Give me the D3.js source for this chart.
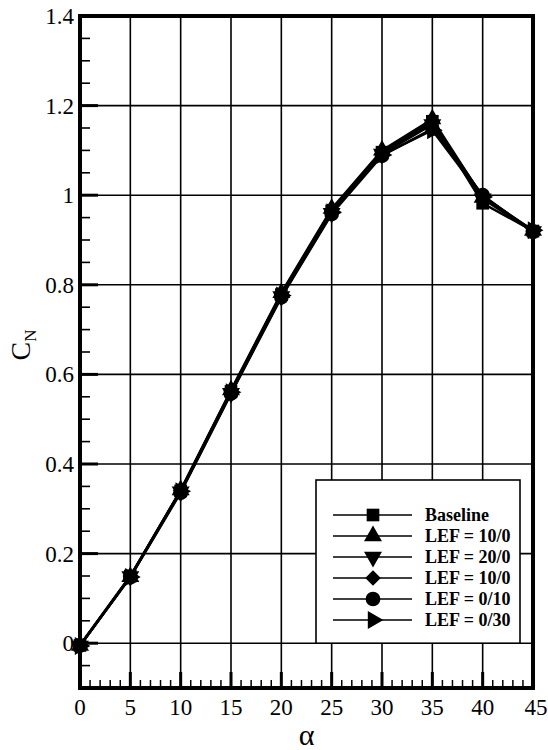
<!DOCTYPE html>
<html><head><meta charset="utf-8">
<script src="https://cdn.jsdelivr.net/npm/d3@7"></script>
<style>body{margin:0;background:#fff}svg{display:block}text{font-family:"Liberation Serif","DejaVu Serif","Times New Roman",serif}</style>
</head><body>
<script>
const alpha = [0, 5, 10, 15, 20, 25, 30, 35, 40, 45];
const seriesNames = ["Baseline", "LEF = 10/0", "LEF = 20/0", "LEF = 10/0", "LEF = 0/10", "LEF = 0/30"];
const seriesSymbols = ["square", "triangleUp", "triangleDown", "diamond", "circle", "triangleRight"];
const baseline = [-0.005, 0.150, 0.340, 0.562, 0.778, 0.965, 1.096, 1.165, 0.982, 0.920];
const lef10_0  = [-0.005, 0.148, 0.342, 0.565, 0.782, 0.970, 1.100, 1.170, 0.995, 0.921];
const lef20_0  = [-0.006, 0.149, 0.338, 0.558, 0.774, 0.960, 1.092, 1.158, 0.992, 0.919];
const lef10_0b = [-0.004, 0.150, 0.341, 0.563, 0.780, 0.967, 1.098, 1.162, 0.998, 0.920];
const lef0_10  = [-0.005, 0.147, 0.336, 0.557, 0.772, 0.958, 1.088, 1.148, 1.000, 0.918];
const lef0_30  = [-0.006, 0.148, 0.339, 0.560, 0.776, 0.962, 1.090, 1.145, 0.996, 0.922];
const seriesValues = [baseline, lef10_0, lef20_0, lef10_0b, lef0_10, lef0_30];
const xTicks = [0, 5, 10, 15, 20, 25, 30, 35, 40, 45];
const yTicks = [0, 0.2, 0.4, 0.6, 0.8, 1, 1.2, 1.4];

const W = 548, H = 750;
const L = 80, R = 533, T = 16, B = 688;
const svg = d3.select("body").append("svg").attr("width", W).attr("height", H);
const x = d3.scaleLinear().domain([0, 45]).range([L, R]);
const y = d3.scaleLinear().domain([-0.1, 1.4]).range([B, T]);

// grid
const g = svg.append("g");
g.selectAll(".gx").data(xTicks.slice(1, -1)).enter().append("line")
  .attr("x1", d => x(d)).attr("x2", d => x(d)).attr("y1", T).attr("y2", B)
  .attr("stroke", "#000").attr("stroke-width", 1.6);
g.selectAll(".gy").data(yTicks.slice(0, -1)).enter().append("line")
  .attr("x1", L).attr("x2", R).attr("y1", d => y(d)).attr("y2", d => y(d))
  .attr("stroke", "#000").attr("stroke-width", 1.6);

// minor ticks
const xMinor = d3.range(0, 46, 1).filter(v => v % 5 !== 0);
g.selectAll(".mx").data(xMinor).enter().append("line")
  .attr("x1", d => x(d)).attr("x2", d => x(d)).attr("y1", B).attr("y2", B - 8)
  .attr("stroke", "#000").attr("stroke-width", 1.5);
g.selectAll(".Mx").data(xTicks).enter().append("line")
  .attr("x1", d => x(d)).attr("x2", d => x(d)).attr("y1", B).attr("y2", B - 16)
  .attr("stroke", "#000").attr("stroke-width", 3);
const yMinor = d3.range(-0.1, 1.4001, 0.05).filter(v => Math.abs(Math.round(v * 5) - v * 5) > 1e-6);
g.selectAll(".my").data(yMinor).enter().append("line")
  .attr("x1", L).attr("x2", L + 10).attr("y1", d => y(d)).attr("y2", d => y(d))
  .attr("stroke", "#000").attr("stroke-width", 1.6);
g.selectAll(".My").data(yTicks).enter().append("line")
  .attr("x1", L).attr("x2", L + 18).attr("y1", d => y(d)).attr("y2", d => y(d))
  .attr("stroke", "#000").attr("stroke-width", 3);

// data lines
const line = d3.line().x((d, i) => x(alpha[i])).y(d => y(d));
const sym = {
  square: d3.symbolSquare, triangleUp: d3.symbolTriangle, triangleDown: d3.symbolTriangle,
  diamond: d3.symbolSquare, circle: d3.symbolCircle, triangleRight: d3.symbolTriangle
};
const rot = { square: 0, triangleUp: 0, triangleDown: 180, diamond: 45, circle: 0, triangleRight: 90 };
const size = { square: 160, triangleUp: 140, triangleDown: 140, diamond: 120, circle: 170, triangleRight: 140 };

seriesValues.forEach((vals, s) => {
  svg.append("path").attr("d", line(vals)).attr("fill", "none")
    .attr("stroke", "#000").attr("stroke-width", 2.4);
});
seriesValues.forEach((vals, s) => {
  const k = seriesSymbols[s];
  svg.selectAll(null).data(vals).enter().append("path")
    .attr("d", d3.symbol().type(sym[k]).size(size[k]))
    .attr("transform", (d, i) => `translate(${x(alpha[i])},${y(d)}) rotate(${rot[k]})`)
    .attr("fill", "#000");
});

// frame
svg.append("rect").attr("x", L).attr("y", T).attr("width", R - L).attr("height", B - T)
  .attr("fill", "none").attr("stroke", "#000").attr("stroke-width", 4);

// tick labels
svg.selectAll(".xl").data(xTicks).enter().append("text")
  .attr("x", d => x(d) + (d === 45 ? 3 : 0)).attr("y", 715).attr("text-anchor", "middle")
  .attr("font-size", 23).text(d => d);
svg.selectAll(".yl").data(yTicks).enter().append("text")
  .attr("x", 74).attr("y", d => y(d) + 8).attr("text-anchor", "end")
  .attr("font-size", 23).text(d => d);

// axis titles
svg.append("text").attr("x", x(22.5)).attr("y", 745).attr("text-anchor", "middle")
  .attr("font-size", 30).text("α");
const yt = svg.append("text").attr("transform", "translate(30,345) rotate(-90)")
  .attr("text-anchor", "middle").attr("font-size", 28);
yt.append("tspan").text("C");
yt.append("tspan").attr("font-size", 17).attr("dy", 6).text("N");

// legend
const lg = svg.append("g");
lg.append("rect").attr("x", 316).attr("y", 480).attr("width", 204).attr("height", y(0) - 480)
  .attr("fill", "#fff").attr("stroke", "#000").attr("stroke-width", 1.6);
seriesNames.forEach((n, i) => {
  const yy = 515 + i * 21;
  const k = seriesSymbols[i];
  lg.append("line").attr("x1", 333).attr("x2", 412).attr("y1", yy).attr("y2", yy)
    .attr("stroke", "#000").attr("stroke-width", 1.6);
  lg.append("path").attr("d", d3.symbol().type(sym[k]).size(size[k]))
    .attr("transform", `translate(373,${yy}) rotate(${rot[k]})`).attr("fill", "#000");
  lg.append("text").attr("x", 425).attr("y", yy + 6)
    .attr("font-size", 18).attr("font-weight", "bold").text(n);
});
</script>
</body></html>
